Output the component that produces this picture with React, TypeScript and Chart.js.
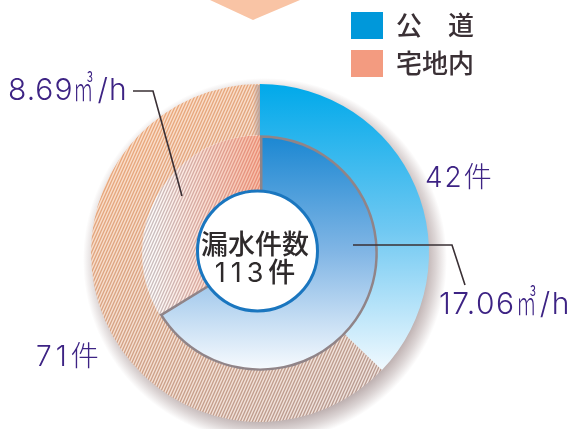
import React, { useEffect, useRef } from "react";
import { Chart, registerables } from "chart.js";

Chart.register(...registerables);

// ---- data ----
const categories = ["公道", "宅地内"];
const legendLabels = ["公　道", "宅地内"];
const leakCounts = [42, 71]; // 件 (outer ring)
const leakFlows = [17.06, 8.69]; // ㎥/h (inner ring)
const centerTitle = "漏水件数";
const countUnit = "件";
const flowUnit = "㎥";
const flowUnitTail = "/h";

const W = 572;
const H = 429;
const PURPLE = "#3d2384";
const CX = 260;
const CY = 253;
const R = 169;

function chartGeom(chart: any) {
  const a = chart.chartArea;
  return { cx: (a.left + a.right) / 2, cy: (a.top + a.bottom) / 2, r: R };
}

function makeHatch(
  chart: any,
  bg0: string,
  bg1: string,
  st0: string,
  st1: string,
  g: [number, number, number, number]
) {
  const c = document.createElement("canvas");
  c.width = W;
  c.height = H;
  const x = c.getContext("2d")!;
  x.lineWidth = 1.35;
  x.strokeStyle = "#000";
  x.beginPath();
  for (let s = -H; s < W + H; s += 3) {
    x.moveTo(s, H);
    x.lineTo(s + H * 0.45, 0);
  }
  x.stroke();
  x.globalCompositeOperation = "source-in";
  const sg = x.createLinearGradient(g[0], g[1], g[2], g[3]);
  sg.addColorStop(0, st0);
  sg.addColorStop(1, st1);
  x.fillStyle = sg;
  x.fillRect(0, 0, W, H);
  x.globalCompositeOperation = "destination-over";
  const bg = x.createLinearGradient(g[0], g[1], g[2], g[3]);
  bg.addColorStop(0, bg0);
  bg.addColorStop(1, bg1);
  x.fillStyle = bg;
  x.fillRect(0, 0, W, H);
  return chart.ctx.createPattern(c, "no-repeat");
}

const cache = new WeakMap<any, any>();
function fills(chart: any) {
  let f = cache.get(chart);
  if (f) return f;
  const { cx, cy, r } = chartGeom(chart);
  const ctx = chart.ctx as CanvasRenderingContext2D;
  const ob = ctx.createLinearGradient(0, cy - r, 0, cy + 122);
  ob.addColorStop(0, "#00a9ea");
  ob.addColorStop(0.5, "#6fc8f2");
  ob.addColorStop(1, "#f5fbff");
  const ib = ctx.createLinearGradient(0, cy - 118, 0, cy + 118);
  ib.addColorStop(0, "#1a87d2");
  ib.addColorStop(0.5, "#82b6e5");
  ib.addColorStop(1, "#f8fbfe");
  const oh = makeHatch(chart, "#fbdcc6", "#efe3df", "#f2aa78", "#b39a93", [
    cx - 160,
    cy - 160,
    cx + 110,
    cy + 170,
  ]);
  const ih = makeHatch(chart, "#fefbfa", "#f6bea9", "#cbbdbd", "#ea8e76", [
    cx - 105,
    cy,
    cx - 2,
    cy,
  ]);
  f = { ob, ib, oh, ih };
  cache.set(chart, f);
  return f;
}

const decoPlugin = {
  id: "deco",
  afterDatasetsDraw(chart: any) {
    const { cx, cy, r } = chartGeom(chart);
    const ctx = chart.ctx as CanvasRenderingContext2D;
    ctx.save();
    // gap shading at the top between outer segments
    const gs = ctx.createLinearGradient(cx - 7, 0, cx, 0);
    gs.addColorStop(0, "rgba(180,160,155,0)");
    gs.addColorStop(1, "rgba(180,160,155,0.9)");
    ctx.fillStyle = gs;
    ctx.fillRect(cx - 7, cy - r + 1, 7, 50);
    // centre disc
    ctx.beginPath();
    ctx.arc(cx - 2.5, cy - 2, 60, 0, Math.PI * 2);
    ctx.fillStyle = "#fff";
    ctx.fill();
    ctx.lineWidth = 3;
    ctx.strokeStyle = "#1a76bf";
    ctx.stroke();
    // leader lines
    ctx.strokeStyle = "#3a3035";
    ctx.lineWidth = 1.6;
    ctx.beginPath();
    ctx.moveTo(cx - 127, cy - 162);
    ctx.lineTo(cx - 107, cy - 162);
    ctx.lineTo(cx - 78, cy - 57);
    ctx.stroke();
    ctx.beginPath();
    ctx.moveTo(cx + 93, cy - 8);
    ctx.lineTo(cx + 192, cy - 8);
    ctx.lineTo(cx + 205, cy + 32);
    ctx.stroke();
    ctx.restore();
  },
};

export default function App() {
  const ref = useRef<HTMLCanvasElement>(null);
  useEffect(() => {
    if (!ref.current) return;
    const chart = new Chart(ref.current, {
      type: "doughnut",
      data: {
        labels: categories,
        datasets: [
          {
            data: leakCounts,
            weight: 51,
            backgroundColor: (c: any) => {
              if (!c.chart.chartArea) return "transparent";
              const f = fills(c.chart);
              return c.dataIndex === 0 ? f.ob : f.oh;
            },
            borderWidth: 0,
          },
          {
            data: leakFlows,
            weight: 67,
            backgroundColor: (c: any) => {
              if (!c.chart.chartArea) return "transparent";
              const f = fills(c.chart);
              return c.dataIndex === 0 ? f.ib : f.ih;
            },
            borderColor: ["#908488", "rgba(0,0,0,0)"],
            borderWidth: [5, 0],
          },
        ],
      },
      options: {
        responsive: false,
        animation: false,
        events: [],
        radius: R,
        cutout: "30%",
        layout: { padding: { left: CX - 170, right: W - CX - 170, top: CY - 170, bottom: H - CY - 170 } },
        plugins: { legend: { display: false }, tooltip: { enabled: false } },
      } as any,
      plugins: [decoPlugin],
    });
    return () => chart.destroy();
  }, []);

  const total = leakCounts.reduce((a, b) => a + b, 0);
  const numFont = "Inter, 'Noto Sans CJK JP', sans-serif";
  const cjk = "'Noto Sans CJK JP', sans-serif";
  const unit = (
    <>
      <span
        style={{
          display: "inline-block",
          width: "0.7em",
          fontSize: "1.15em",
          lineHeight: 0,
          transform: "scaleX(0.6)",
          transformOrigin: "left",
          fontFamily: cjk,
          fontWeight: 300,
          letterSpacing: 0,
          verticalAlign: "-0.04em",
        }}
      >
        {flowUnit}
      </span>
      {flowUnitTail}
    </>
  );
  const lab = (left: number, top: number, size: number, content: any, ls = 1.5) => (
    <div
      style={{
        position: "absolute",
        left,
        top,
        fontFamily: numFont,
        fontWeight: 300,
        fontSize: size,
        lineHeight: 1,
        color: PURPLE,
        whiteSpace: "nowrap",
        letterSpacing: ls,
      }}
    >
      {content}
    </div>
  );

  const sr = R + 13;
  return (
    <div style={{ position: "absolute", left: 0, top: 0, width: W, height: H, background: "#fff", overflow: "hidden" }}>
      <svg width={W} height={H} style={{ position: "absolute", left: 0, top: 0 }}>
        <defs>
          <radialGradient id="ringShadow" gradientUnits="userSpaceOnUse" cx={CX + 5} cy={CY + 7} r={sr}>
            <stop offset="0" stopColor="#806666" stopOpacity="0.5" />
            <stop offset={(R - 8) / sr} stopColor="#806666" stopOpacity="0.5" />
            <stop offset={(R + 2) / sr} stopColor="#806666" stopOpacity="0.28" />
            <stop offset="1" stopColor="#806666" stopOpacity="0" />
          </radialGradient>
        </defs>
        <polygon points="210,0 300,0 253,20" fill="#f9c4a5" />
        <circle cx={CX + 5} cy={CY + 7} r={sr} fill="url(#ringShadow)" />
        <circle cx={CX} cy={CY} r={R - 1} fill="#fff" />
      </svg>
      <canvas ref={ref} width={W} height={H} style={{ position: "absolute", left: 0, top: 0, width: W, height: H }} />
      {/* legend */}
      <div style={{ position: "absolute", left: 351, top: 12, width: 32, height: 27, background: "#0098da" }} />
      <div style={{ position: "absolute", left: 351, top: 50, width: 32, height: 27, background: "#f39b80" }} />
      {legendLabels.map((t, i) => (
        <div
          key={t}
          style={{
            position: "absolute",
            left: 396,
            top: 11 + i * 38,
            fontFamily: cjk,
            fontWeight: 500,
            fontSize: 26,
            lineHeight: 1,
            color: "#3a3035",
            whiteSpace: "nowrap",
          }}
        >
          {t}
        </div>
      ))}
      {/* centre text */}
      <div
        style={{
          position: "absolute",
          left: 155,
          width: 200,
          top: 229,
          textAlign: "center",
          fontFamily: cjk,
          fontWeight: 500,
          fontSize: 27,
          lineHeight: "28px",
          color: "#2e2a2b",
        }}
      >
        <div>{centerTitle}</div>
        <div>
          <span style={{ letterSpacing: 5, fontFamily: "Inter, sans-serif", fontWeight: 400 }}>{total}</span>
          {countUnit}
        </div>
      </div>
      {lab(8, 74, 30, <>{leakFlows[1].toFixed(2)}{unit}</>, 1)}
      {lab(439, 288, 30, <>{leakFlows[0].toFixed(2)}{unit}</>)}
      {lab(425, 163, 28, <>{leakCounts[0]}{countUnit}</>, 2)}
      {lab(36, 342, 28, <>{leakCounts[1]}{countUnit}</>, 4)}
    </div>
  );
}
